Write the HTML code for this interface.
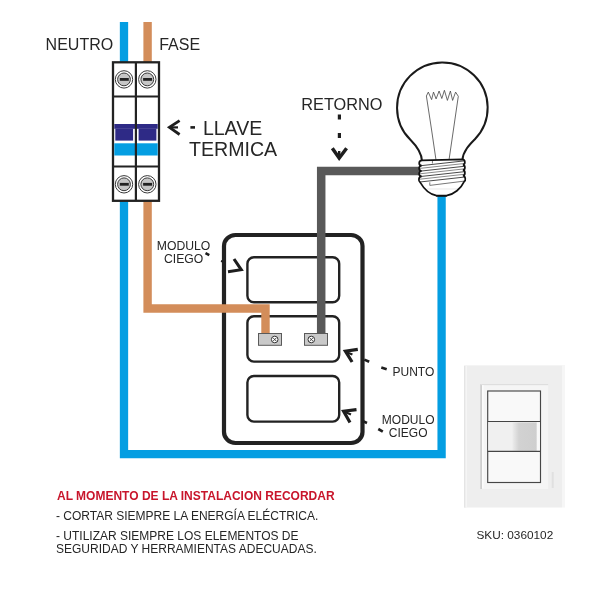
<!DOCTYPE html>
<html><head><meta charset="utf-8">
<style>
html,body{margin:0;padding:0;background:#fff;width:600px;height:600px;overflow:hidden}
svg{display:block;will-change:transform}
text{font-family:"Liberation Sans",sans-serif;fill:#262626}
</style></head><body>
<svg width="600" height="600" viewBox="0 0 600 600">
<defs>
<linearGradient id="gr" x1="0" x2="1" y1="0" y2="0">
<stop offset="0" stop-color="#ececec"/><stop offset="0.27" stop-color="#d2d2d2"/><stop offset="1" stop-color="#cecece"/>
</linearGradient>
<clipPath id="baseclip"><path id="basep" d="M422 160.3 L462.4 159.3 C465.6 159.6 465.6 164.5 462.9 164.8 C465.6 165.1 465.6 169.9 462.9 170.2 C465.6 170.5 465.6 175.3 462.9 175.6 C465.6 175.9 466 180.5 464.3 181.4 C461 188.5 454 194.5 446.5 195.6 L436.5 195.6 C430 194.5 424 189 420.2 182.4 C418.2 181.2 418.2 176.8 421.6 176.4 C418.3 176 418.3 171.4 421.6 171 C418.3 170.6 418.3 166 421.6 165.6 C418.3 165.2 418.3 160.7 422 160.3 Z"/></clipPath>
</defs>
<rect width="600" height="600" fill="#fff"/>

<!-- blue wire -->
<path d="M124 22 V454.2 H441.6 V192" fill="none" stroke="#049ee2" stroke-width="8.3" stroke-linejoin="miter"/>

<!-- switch plate -->
<rect x="224" y="235" width="138.5" height="208" rx="11.5" ry="11" fill="none" stroke="#222" stroke-width="4.2"/>
<rect x="247.4" y="257.2" width="91.8" height="45" rx="6.5" ry="6.5" fill="none" stroke="#222" stroke-width="2.4"/>
<rect x="247.4" y="316.3" width="91.8" height="45.3" rx="6.5" ry="6.5" fill="none" stroke="#222" stroke-width="2.4"/>
<rect x="247.4" y="376" width="91.8" height="45.6" rx="6.5" ry="6.5" fill="none" stroke="#222" stroke-width="2.4"/>

<!-- brown & grey wires -->
<path d="M147.6 22 V308.5 H265.5 V336" fill="none" stroke="#d38d5a" stroke-width="8.4" stroke-linejoin="miter"/>
<path d="M321.2 336 V171 H422" fill="none" stroke="#595959" stroke-width="8.5" stroke-linejoin="miter"/>

<!-- terminals -->
<rect x="258.5" y="333.5" width="23" height="11.8" fill="#c9c9c9" stroke="#5a5a5a" stroke-width="1"/>
<circle cx="274.7" cy="339.5" r="3.3" fill="#fff" stroke="#333" stroke-width="1"/>
<path d="M273 337.8 L276.4 341.2 M276.4 337.8 L273 341.2" stroke="#333" stroke-width="0.9"/>
<rect x="304.5" y="333.5" width="23" height="11.8" fill="#c9c9c9" stroke="#5a5a5a" stroke-width="1"/>
<circle cx="311.3" cy="339.5" r="3.3" fill="#fff" stroke="#333" stroke-width="1"/>
<path d="M309.6 337.8 L313 341.2 M313 337.8 L309.6 341.2" stroke="#333" stroke-width="0.9"/>

<!-- breaker -->
<rect x="113" y="62.3" width="46" height="138.5" fill="#fff" stroke="#222" stroke-width="2.3"/>
<rect x="114.3" y="124" width="43.4" height="4.8" fill="#2e2a86"/>
<rect x="115.3" y="128.6" width="17.8" height="12" fill="#2e2a86"/>
<rect x="138.6" y="128.6" width="17.8" height="12" fill="#2e2a86"/>
<rect x="114.3" y="143.3" width="43.4" height="12.2" fill="#049ee2"/>
<path d="M113 96.4 H159 M113 166.4 H159" stroke="#222" stroke-width="2"/>
<path d="M135.9 62 V201" stroke="#222" stroke-width="2.2"/>
<g id="screw">
<circle cx="124" cy="79.4" r="8.7" fill="#fff" stroke="#3a3a3a" stroke-width="1"/>
<circle cx="124" cy="79.4" r="6.4" fill="#c6c6c6" stroke="#3a3a3a" stroke-width="1"/>
<rect x="119.8" y="78" width="9" height="2.8" fill="#222"/>
</g>
<use href="#screw" x="23.3" y="0"/>
<use href="#screw" x="0" y="104.9"/>
<use href="#screw" x="23.3" y="104.9"/>

<!-- bulb glass -->
<path d="M422 161 C421.5 152 415.4 144.8 410.4 139.8 A45.3 45.3 0 1 1 474.9 139.2 C470 144.2 463 151 462.4 160" fill="#fff" stroke="#1a1a1a" stroke-width="2"/>
<path d="M436 160 L431.6 130 L426.4 96 L428.3 92.1 L431.6 99.6 L433.5 92.1 L436.1 98.9 L439.1 91 L441.8 98.5 L444.4 90.3 L447.4 100.4 L450.4 91 L452.6 100.4 L455.6 92.1 L458.3 96.3 L453.4 130 L449 160" fill="none" stroke="#444" stroke-width="0.8"/>
<!-- base -->
<use href="#basep" fill="#fff"/>
<g clip-path="url(#baseclip)" fill="none" stroke-width="1">
<path d="M418 166 L466 160.7 M418 171.4 L466 166.1 M418 176.8 L466 171.5 M418 182.2 L466 176.9" stroke="#4a4a4a"/>
<path d="M418 168.6 L466 163.3 M418 174 L466 168.7 M418 179.4 L466 174.1" stroke="#8a8a8a"/>
<path d="M429.8 182.3 V185.4 L466 180.9" stroke="#777"/>
<path d="M432.4 160.3 V163.5" stroke="#777"/>
<path d="M427 189 H458" stroke="#d8d8d8" stroke-width="0.6"/>
</g>
<use href="#basep" fill="none" stroke="#111" stroke-width="1.7"/>
<path d="M436 195.8 H447" stroke="#111" stroke-width="1.6"/>

<!-- texts -->
<text x="45.6" y="50" font-size="16">NEUTRO</text>
<text x="159.2" y="49.7" font-size="16">FASE</text>
<text x="301.3" y="109.5" font-size="16.3">RETORNO</text>
<text x="202.9" y="134.6" font-size="19.5">LLAVE</text>
<text x="189" y="156.4" font-size="19.6">TERMICA</text>
<text x="183.6" y="249.6" font-size="12.2" text-anchor="middle">MODULO</text>
<text x="183.6" y="262.7" font-size="12.2" text-anchor="middle">CIEGO</text>
<text x="392.5" y="375.5" font-size="12">PUNTO</text>
<text x="408.2" y="423.5" font-size="12" text-anchor="middle">MODULO</text>
<text x="408.2" y="437.2" font-size="12" text-anchor="middle">CIEGO</text>
<text x="57" y="499.5" font-size="12" font-weight="bold" style="fill:#c8152b">AL MOMENTO DE LA INSTALACION RECORDAR</text>
<text x="56" y="520" font-size="12">- CORTAR SIEMPRE LA ENERGÍA ELÉCTRICA.</text>
<text x="56" y="539.5" font-size="12">- UTILIZAR SIEMPRE LOS ELEMENTOS DE</text>
<text x="56" y="552.5" font-size="12">SEGURIDAD Y HERRAMIENTAS ADECUADAS.</text>
<text x="476.5" y="538.7" font-size="11.8">SKU: 0360102</text>

<!-- arrows -->
<g stroke="#1e1e1e" stroke-width="2.8" fill="none" stroke-linecap="butt" stroke-linejoin="miter">
<path d="M179.6 120.7 L169.4 127.4 L179.6 134.5"/>
<path d="M169 127.4 H178" stroke-width="2.2"/>
<path d="M190.4 127.4 H195" stroke-width="2.6"/>
<path d="M339.4 114.6 V119.6 M339.4 133 V138" stroke-width="3.2"/>
<path d="M332.3 148.3 L339.2 158 L346.6 148.3" stroke-width="3.5"/>
<path d="M339.2 151 V158" stroke-width="2.4"/>
<path d="M234 259 L241.2 269.7 L228 271.7" stroke-width="3.1"/>
<path d="M205.5 253.2 L209.3 255.2" stroke-width="2.6"/>
<path d="M221 261 L223 261.6" stroke-width="2"/>
<path d="M357.8 349.3 L345.4 351.2 L352.1 362" stroke-width="3.2"/>
<path d="M346 352 L352.4 354.5" stroke-width="2.2"/>
<path d="M364.3 359.6 L369.2 361.8" stroke-width="2.6"/>
<path d="M381.3 367.6 L386.7 369.3" stroke-width="2.6"/>
<path d="M356.5 409.6 L343.6 411.2 L350 422.5" stroke-width="3.2"/>
<path d="M345 412 L351 414.5" stroke-width="2.2"/>
<path d="M362.5 421 L367 423" stroke-width="2.6"/>
<path d="M378.3 429 L382.8 431.6" stroke-width="2.6"/>
</g>

<!-- switch photo -->
<rect x="464" y="365" width="98" height="142.5" fill="#eeeeee"/>
<rect x="464" y="365" width="1.5" height="142.5" fill="#e4e4e4"/>
<rect x="465.5" y="365.5" width="1.5" height="141.5" fill="#f5f5f5"/>
<rect x="464" y="365" width="98" height="1" fill="#f4f4f4"/>
<rect x="562" y="365" width="3" height="142.5" fill="#f6f6f6"/>
<rect x="480.2" y="384" width="68" height="105" fill="#f5f5f5"/>
<rect x="480.2" y="384" width="1.8" height="105" fill="#cfcfcf"/>
<rect x="480.2" y="384" width="68" height="1.2" fill="#dedede"/>
<rect x="482" y="385.2" width="1.6" height="103" fill="#fcfcfc"/>
<rect x="487.7" y="391" width="52.8" height="91.5" fill="#f9f9f9" stroke="#474747" stroke-width="1.15"/>
<rect x="488.3" y="421.9" width="51.6" height="29.2" fill="#f0f0f0"/>
<rect x="512.4" y="422.5" width="24.4" height="28.2" fill="url(#gr)"/>
<rect x="536.8" y="422" width="3" height="29.2" fill="#f8f8f8"/>
<path d="M487.7 421.5 H540.5 M487.7 451.4 H540.5" stroke="#454545" stroke-width="1.15"/>
<path d="M552.7 472 V488" stroke="#e0e0e0" stroke-width="2"/>
</svg>
</body></html>
